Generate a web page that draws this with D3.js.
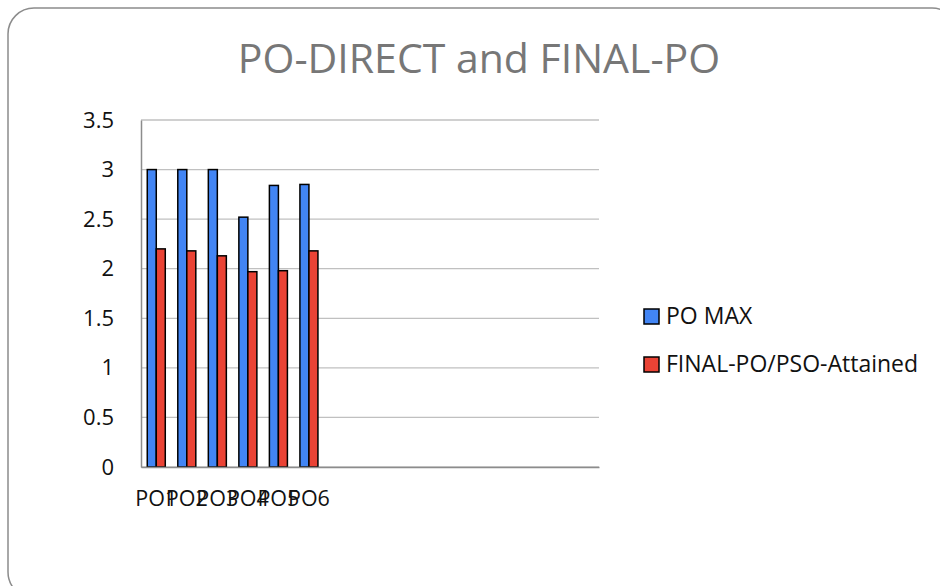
<!DOCTYPE html>
<html>
<head>
<meta charset="utf-8">
<script src="https://cdn.jsdelivr.net/npm/d3@7"></script>
<style>
  body { margin: 0; background: #fff; }
  text { font-family: 'Open Sans', sans-serif; }
</style>
</head>
<body>
<div id="chart"></div>
<script>
// categories (the sheet has 15 slots, only 6 filled)
var categories = ['PO1', 'PO2', 'PO3', 'PO4', 'PO5', 'PO6', '', '', '', '', '', '', '', '', ''];
var poMax = [3, 3, 3, 2.52, 2.84, 2.85];
var finalPo = [2.2, 2.18, 2.13, 1.97, 1.98, 2.18];
var seriesNames = ['PO MAX', 'FINAL-PO/PSO-Attained'];
var yTicks = [0, 0.5, 1, 1.5, 2, 2.5, 3, 3.5];
var colors = ['#4285f4', '#ea4335'];

var W = 940, H = 586;
var svg = d3.select('#chart').append('svg')
  .attr('width', W)
  .attr('height', H);

// rounded frame, runs off the right and bottom edge
svg.append('rect')
  .attr('x', 8).attr('y', 8)
  .attr('width', 950).attr('height', 590)
  .attr('rx', 26).attr('ry', 26)
  .attr('fill', '#fff')
  .attr('stroke', '#8c8c8c')
  .attr('stroke-width', 1.5);

svg.append('text')
  .attr('x', 479).attr('y', 73)
  .attr('text-anchor', 'middle')
  .attr('font-size', '41px')
  .attr('fill', '#777')
  .text('PO-DIRECT and FINAL-PO');

var x = d3.scaleBand()
  .domain(d3.range(categories.length))
  .range([141, 599])
  .paddingInner(0.41)
  .paddingOuter(0.205);

var y = d3.scaleLinear().domain([0, 3.5]).range([467, 120]);

// gridlines
svg.append('g')
  .selectAll('line')
  .data(yTicks)
  .enter().append('line')
  .attr('x1', 141).attr('x2', 599)
  .attr('y1', function(d) { return y(d); })
  .attr('y2', function(d) { return y(d); })
  .attr('stroke', '#c0c0c0')
  .attr('stroke-width', 1.3);

// y axis
var yAxis = d3.axisLeft(y).tickValues(yTicks).tickSize(0).tickPadding(27)
  .tickFormat(function(d) { return d; });
var gy = svg.append('g')
  .attr('transform', 'translate(141,0)')
  .call(yAxis);
gy.select('.domain').attr('stroke', '#8c8c8c').attr('stroke-width', 1.5);
gy.selectAll('text').attr('font-size', '22px').attr('fill', '#111')
  .attr('font-family', "'Open Sans', sans-serif");

// bars
var inner = d3.scaleBand().domain([0, 1]).range([0, x.bandwidth()]);
var groups = svg.append('g').selectAll('g')
  .data(poMax.map(function(v, i) { return [v, finalPo[i]]; }))
  .enter().append('g')
  .attr('transform', function(d, i) { return 'translate(' + x(i) + ',0)'; });
groups.selectAll('rect')
  .data(function(d) { return d; })
  .enter().append('rect')
  .attr('x', function(d, j) { return inner(j); })
  .attr('y', function(d) { return y(d); })
  .attr('width', inner.bandwidth())
  .attr('height', function(d) { return y(0) - y(d); })
  .attr('fill', function(d, j) { return colors[j]; })
  .attr('stroke', '#000')
  .attr('stroke-width', 1.5);

// x axis
var xAxis = d3.axisBottom(x).tickSize(0).tickPadding(24)
  .tickFormat(function(i) { return categories[i]; });
var gx = svg.append('g')
  .attr('transform', 'translate(0,467)')
  .call(xAxis);
gx.select('.domain').attr('stroke', '#8c8c8c').attr('stroke-width', 1.5);
gx.selectAll('text').attr('font-size', '21.5px').attr('fill', '#111')
  .attr('font-family', "'Open Sans', sans-serif");

// legend
var legend = svg.append('g').selectAll('g')
  .data(seriesNames)
  .enter().append('g')
  .attr('transform', function(d, i) { return 'translate(644,' + (309 + i * 48) + ')'; });
legend.append('rect')
  .attr('width', 15).attr('height', 15)
  .attr('fill', function(d, i) { return colors[i]; })
  .attr('stroke', '#000')
  .attr('stroke-width', 1.5);
legend.append('text')
  .attr('x', 22).attr('y', 15)
  .attr('font-size', '23px')
  .attr('fill', '#111')
  .text(function(d) { return d; });
</script>
</body>
</html>
